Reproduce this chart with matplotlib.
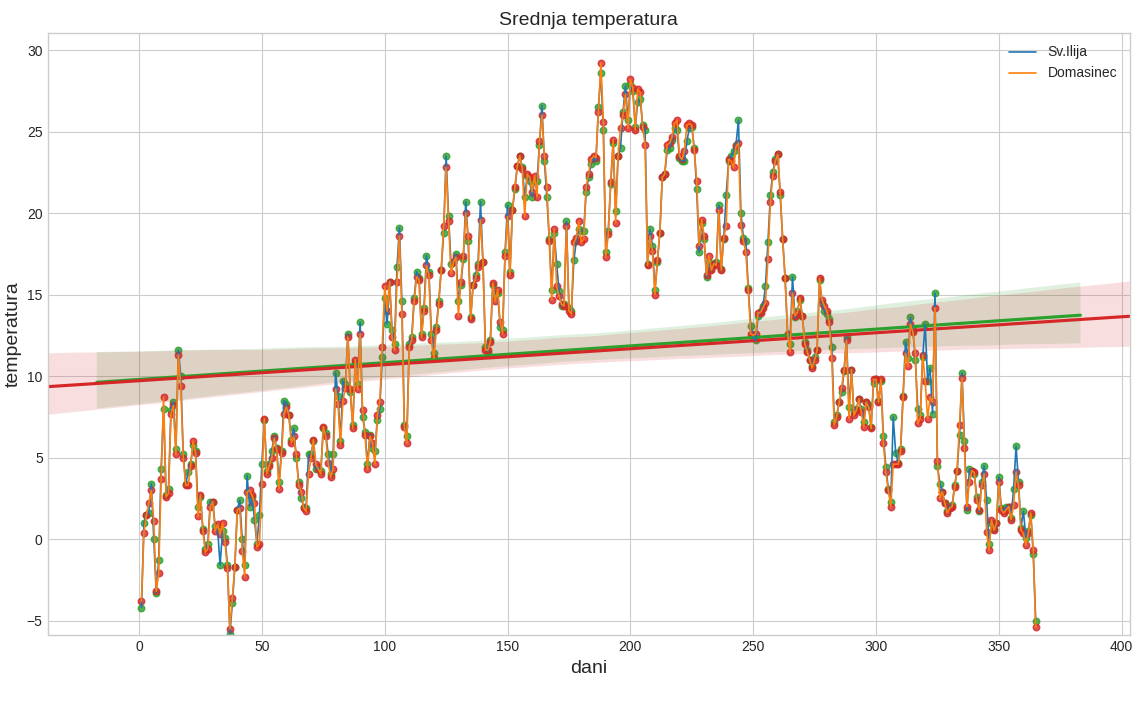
import matplotlib
matplotlib.use('Agg')
import matplotlib.pyplot as plt
import seaborn as sns

# daily mean temperature, two stations
dani = list(range(1, 366))

sv_ilija = [
    -4.2, 1.0, 1.5, 1.6, 3.4, 0.0, -3.3, -1.3, 4.3, 8.0,
    2.7, 3.1, 7.9, 8.4, 5.5, 11.6, 10.0, 5.2, 3.4, 4.1,
    4.6, 5.8, 5.4, 2.0, 2.6, 0.6, -0.6, -0.3, 2.3, 2.3,
    0.8, 0.6, -1.6, 0.5, 0.1, -1.6, -5.8, -3.9, -1.7, 1.8,
    2.4, 0.0, -1.6, 3.9, 2.0, 2.6, 1.2, -0.3, 1.5, 4.6,
    7.3, 4.2, 4.6, 5.4, 6.3, 5.6, 3.5, 5.4, 8.5, 8.3,
    7.6, 6.1, 6.8, 5.0, 3.5, 2.5, 2.0, 1.9, 5.2, 5.2,
    6.0, 4.3, 4.4, 4.2, 6.8, 6.5, 5.2, 4.0, 5.2, 10.2,
    8.8, 6.0, 9.7, 9.5, 12.6, 9.0, 7.0, 10.8, 9.5, 13.3,
    7.5, 6.6, 4.6, 6.4, 5.6, 5.4, 7.3, 8.0, 11.2, 14.8,
    13.2, 15.8, 12.8, 12.0, 16.7, 19.1, 14.6, 7.0, 6.3, 12.0,
    12.4, 14.8, 16.4, 16.0, 12.6, 14.2, 17.4, 16.4, 12.6, 11.4,
    13.0, 14.6, 16.5, 18.8, 23.5, 19.8, 16.9, 17.0, 17.5, 14.6,
    15.6, 17.2, 20.7, 18.3, 13.6, 15.6, 16.2, 16.9, 20.7, 17.0,
    11.8, 11.5, 12.2, 15.6, 15.0, 15.1, 13.0, 12.8, 17.6, 20.5,
    16.4, 20.2, 21.5, 22.9, 23.5, 22.8, 21.0, 22.3, 22.0, 21.0,
    22.0, 22.0, 24.2, 26.6, 23.2, 21.0, 18.4, 15.3, 18.8, 16.9,
    15.2, 14.3, 14.4, 19.5, 14.2, 14.0, 17.1, 18.3, 19.0, 18.9,
    18.9, 21.3, 22.2, 23.0, 23.4, 23.2, 26.5, 28.6, 25.1, 17.6,
    18.9, 21.8, 24.3, 20.1, 23.5, 24.0, 26.2, 27.8, 25.7, 27.9,
    27.5, 25.3, 26.8, 27.0, 25.4, 25.1, 16.9, 19.0, 18.0, 15.3,
    17.0, 18.8, 22.2, 22.4, 23.9, 24.0, 24.5, 25.2, 25.1, 23.4,
    23.2, 23.2, 24.4, 25.2, 25.3, 24.0, 21.5, 17.6, 19.4, 18.4,
    16.1, 17.0, 16.6, 16.9, 17.0, 20.5, 16.6, 18.4, 21.1, 23.2,
    23.5, 23.8, 24.2, 25.7, 20.0, 18.5, 18.3, 15.4, 13.1, 12.4,
    12.2, 13.7, 14.0, 14.3, 15.5, 18.2, 21.1, 22.5, 23.3, 23.6,
    21.1, 18.4, 16.0, 12.6, 12.0, 16.1, 13.6, 14.0, 14.7, 13.7,
    12.1, 11.6, 11.0, 10.6, 11.2, 11.6, 15.9, 14.5, 14.0, 13.8,
    13.5, 11.8, 7.2, 7.6, 8.4, 9.0, 10.3, 12.4, 8.1, 10.4,
    7.8, 8.0, 8.6, 8.0, 7.2, 8.4, 8.2, 6.9, 9.6, 9.8,
    8.5, 9.7, 6.3, 4.4, 3.1, 2.3, 7.5, 5.3, 4.7, 5.5,
    8.8, 12.1, 11.1, 13.6, 12.8, 11.0, 8.0, 7.6, 11.2, 13.2,
    9.7, 10.5, 7.7, 15.1, 4.5, 3.4, 2.9, 2.2, 1.7, 2.0,
    2.1, 3.3, 4.2, 6.4, 10.2, 6.0, 1.8, 4.3, 4.2, 4.0,
    2.6, 1.7, 3.5, 4.5, 2.4, -0.3, 1.0, 0.6, 1.0, 3.8,
    1.9, 1.7, 2.0, 2.0, 1.3, 3.1, 5.7, 3.5, 0.7, 1.7,
    0.1, 0.5, 1.5, -0.9, -5.0,
]

domasinec = [
    -3.8, 0.4, 1.5, 2.2, 3.0, 1.1, -3.2, -2.1, 3.7, 8.7,
    2.6, 2.8, 7.7, 8.2, 5.2, 11.3, 9.4, 5.0, 3.3, 3.3,
    4.5, 6.0, 5.3, 1.4, 2.7, 0.5, -0.8, -0.6, 2.0, 2.3,
    0.5, 0.9, 0.3, 1.0, -0.2, -1.8, -5.5, -3.6, -1.7, 1.8,
    1.9, -0.7, -2.3, 2.9, 3.0, 2.7, 2.2, -0.5, -0.3, 3.4,
    7.4, 4.0, 4.5, 5.0, 6.2, 5.5, 3.1, 5.3, 7.7, 8.1,
    7.6, 5.9, 6.3, 5.2, 3.3, 2.9, 1.9, 1.7, 4.0, 5.0,
    6.1, 4.6, 4.3, 4.0, 6.9, 6.3, 4.7, 3.8, 4.3, 9.2,
    8.3, 5.8, 8.5, 9.3, 12.4, 9.2, 6.8, 11.0, 9.2, 12.6,
    7.9, 6.4, 4.3, 6.3, 5.9, 4.6, 7.6, 8.4, 11.8, 15.5,
    14.0, 15.8, 12.4, 11.6, 15.8, 18.6, 13.8, 6.9, 5.9, 11.8,
    12.2, 14.6, 16.1, 15.9, 12.4, 14.0, 16.8, 16.2, 12.2, 11.1,
    12.8, 14.4, 16.5, 19.2, 22.8, 19.5, 16.3, 17.0, 17.3, 13.7,
    15.8, 17.4, 20.0, 18.6, 13.5, 15.6, 16.0, 16.7, 19.6, 17.0,
    11.6, 11.6, 12.1, 15.7, 14.6, 15.3, 13.3, 12.6, 17.4, 19.8,
    16.2, 20.2, 21.6, 22.9, 23.5, 22.7, 19.8, 22.4, 22.2, 21.3,
    22.3, 21.0, 24.4, 26.0, 23.5, 21.6, 18.3, 14.7, 19.0, 15.5,
    14.9, 14.4, 14.3, 19.2, 14.0, 13.8, 18.2, 18.5, 19.5, 18.2,
    18.4, 21.6, 22.4, 23.3, 23.5, 23.4, 26.2, 29.2, 25.6, 17.3,
    18.7, 21.9, 24.5, 19.4, 23.5, 25.2, 26.0, 27.3, 25.2, 28.2,
    27.7, 25.1, 27.6, 27.4, 25.3, 24.2, 16.8, 18.6, 17.7, 15.0,
    17.1, 18.8, 22.2, 22.4, 24.2, 24.3, 24.7, 25.5, 25.7, 23.5,
    23.3, 23.8, 25.4, 25.5, 25.4, 23.9, 22.0, 18.0, 19.6, 18.6,
    16.2, 17.4, 16.5, 16.9, 16.8, 20.2, 16.5, 18.5, 19.2, 23.3,
    23.2, 22.8, 24.1, 24.3, 19.3, 18.3, 17.6, 15.3, 12.6, 12.5,
    12.6, 13.9, 13.9, 14.2, 14.5, 17.2, 20.7, 22.3, 23.2, 23.6,
    21.3, 18.4, 16.0, 12.6, 11.5, 15.1, 13.7, 13.9, 14.8, 13.7,
    12.0, 11.5, 11.0, 10.5, 11.0, 11.6, 16.0, 14.7, 14.3, 14.0,
    13.3, 11.1, 7.0, 7.5, 8.4, 9.3, 10.4, 12.2, 7.4, 10.4,
    7.6, 7.9, 8.6, 7.8, 6.9, 8.4, 8.1, 6.8, 9.8, 9.8,
    8.4, 9.8, 5.9, 4.1, 3.0, 2.0, 4.6, 4.6, 4.6, 5.4,
    8.7, 11.4, 10.6, 13.2, 12.7, 11.4, 7.1, 7.4, 11.3, 9.7,
    7.4, 8.7, 8.4, 14.2, 4.8, 2.5, 2.9, 2.2, 1.6, 1.9,
    2.0, 3.2, 4.2, 7.0, 9.9, 5.6, 2.0, 3.5, 4.2, 4.1,
    2.4, 1.8, 3.3, 4.0, 0.45, -0.66, 1.16, 0.55, 0.96, 3.5,
    1.8, 1.6, 1.8, 2.0, 1.2, 2.1, 4.1, 3.3, 0.55, 0.35,
    -0.37, 0.35, 1.6, -0.66, -5.4,
]

plt.style.use('seaborn-v0_8-whitegrid')
plt.rcParams['font.family'] = ['Liberation Sans', 'DejaVu Sans']

fig, ax = plt.subplots(figsize=(11.33, 7.02), dpi=100)
fig.subplots_adjust(left=0.042, right=0.997, top=0.953, bottom=0.095)

ax.plot(dani, sv_ilija, label='Sv.Ilija', lw=1.2, zorder=3)
ax.plot(dani, domasinec, label='Domasinec', lw=1.2, zorder=3)

sns.regplot(x=dani, y=sv_ilija, ax=ax, truncate=False, seed=0,
            scatter_kws={'s': 22})
# widen the axis like the old seaborn did, so the second fit spans the whole width
lo, hi = ax.get_xlim()
pad = 0.05 * (hi - lo)
ax.set_xlim(lo - pad, hi + pad)
sns.regplot(x=dani, y=domasinec, ax=ax, truncate=False, seed=0,
            scatter_kws={'s': 22})

ax.set_ylim(-5.9, 31.05)
ax.set_title('Srednja temperatura', fontsize=14)
ax.set_xlabel('dani', fontsize=14)
ax.set_ylabel('temperatura', fontsize=14)
ax.tick_params(labelsize=10)
ax.legend(loc='upper right', fontsize=10)

fig.savefig('out.png', dpi=100)
